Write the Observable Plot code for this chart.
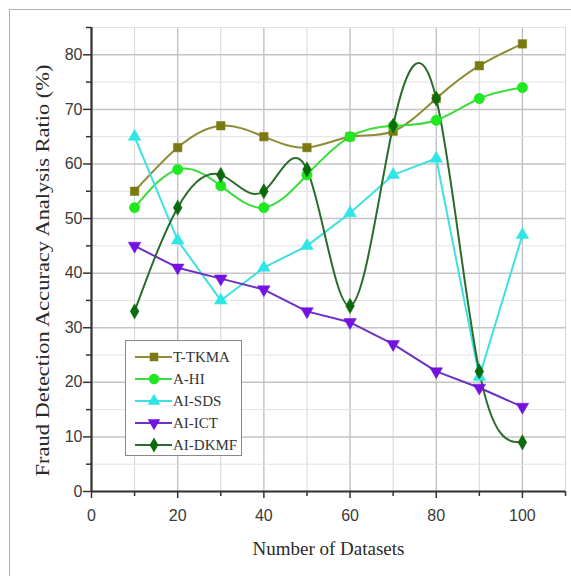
<!DOCTYPE html>
<html><head><meta charset="utf-8">
<script src="https://cdn.jsdelivr.net/npm/d3@7"></script>
<script src="https://cdn.jsdelivr.net/npm/@observablehq/plot@0.6"></script>
<style>
html,body{margin:0;padding:0;background:#fff;}
#wrap{position:relative;width:571px;height:576px;overflow:hidden;background:#fff;}
#frame{position:absolute;left:9px;top:9px;width:620px;height:620px;border:1.5px solid #b0b0b0;pointer-events:none;}
#legend{position:absolute;left:125px;top:340px;width:117px;height:116px;border:1.5px solid #888;background:#fff;box-sizing:border-box;}
</style></head><body><div id="wrap"><div id="frame"></div><div id="legend"></div></div>
<script>
const datasets = [10, 20, 30, 40, 50, 60, 70, 80, 90, 100];
const tTKMA = [55, 63, 67, 65, 63, 65, 66, 72, 78, 82];
const aHI   = [52, 59, 56, 52, 58, 65, 67, 68, 72, 74];
const aiSDS = [65, 46, 35, 41, 45, 51, 58, 61, 21, 47];
const aiICT = [45, 41, 39, 37, 33, 31, 27, 22, 19, 15.5];
const aiDKMF= [33, 52, 58, 55, 59, 34, 67, 72, 22, 9];
const seriesNames = ["T-TKMA", "A-HI", "AI-SDS", "AI-ICT", "AI-DKMF"];
const xMajorTicks = [0, 20, 40, 60, 80, 100];
const xMinorTicks = [10, 30, 50, 70, 90, 110];
const yMajorTicks = [0, 10, 20, 30, 40, 50, 60, 70, 80];
const yMinorTicks = [5, 15, 25, 35, 45, 55, 65, 75, 85];
const xTitle = "Number of Datasets";
const yTitle = "Fraud Detection Accuracy Analysis Ratio (%)";

const styles = [
  {line:"#8e8c35", mark:"#7b7a12", symbol:"square", rotate:0, r:4.8, curve:"natural"},
  {line:"#3bdc3b", mark:"#1fe81f", symbol:"circle", rotate:0, r:5.2, curve:"natural"},
  {line:"#3fe0e0", mark:"#2ee6e6", symbol:"triangle", rotate:0, r:4.7, curve:"linear"},
  {line:"#6d2fc4", mark:"#7412e2", symbol:"triangle", rotate:180, r:4.7, curve:"linear"},
  {line:"#2b6b2b", mark:"#0b6a0b", symbol:"diamond", rotate:0, r:4.6, curve:"natural"}
];
const allValues = [tTKMA, aHI, aiSDS, aiICT, aiDKMF];
const series = seriesNames.map((name, i) => ({
  name, ...styles[i],
  data: datasets.map((x, j) => ({x, y: allValues[i][j], name}))
}));

const marks = [
  Plot.gridX(xMinorTicks, {stroke:"#d6d6d6", strokeOpacity:1, strokeWidth:1}),
  Plot.gridX(xMajorTicks, {stroke:"#bdbdbd", strokeOpacity:1, strokeWidth:1.3}),
  Plot.gridY(yMinorTicks, {stroke:"#e2e2e2", strokeOpacity:1, strokeWidth:1}),
  Plot.gridY(yMajorTicks, {stroke:"#c4c4c4", strokeOpacity:1, strokeWidth:1.5}),
];
for (const s of series) {
  marks.push(Plot.line(s.data, {x:"x", y:"y", stroke:s.line, strokeWidth:2, curve:s.curve}));
}
for (const s of series) {
  marks.push(Plot.dot(s.data, {x:"x", y:"y", symbol:s.symbol, fill:s.mark, stroke:s.mark, strokeWidth:0.5, r:s.r, rotate:s.rotate}));
}
marks.push(
  Plot.axisX(xMajorTicks, {tickSize:7, tickPadding:11, stroke:"#333", strokeWidth:1.5, fontSize:16, fill:"#3a3a3a", label:null, fontFamily:"Liberation Sans"}),
  Plot.axisX(xMinorTicks, {tickSize:5, stroke:"#333", strokeWidth:1.5, text:null, label:null}),
  Plot.axisY(yMajorTicks, {tickSize:8, tickPadding:1, stroke:"#333", strokeWidth:1.5, fontSize:16, fill:"#3a3a3a", label:null, fontFamily:"Liberation Sans"}),
  Plot.axisY(yMinorTicks, {tickSize:5, stroke:"#333", strokeWidth:1.5, text:null, label:null}),
  Plot.ruleY([0], {stroke:"#333", strokeWidth:2.2}),
  Plot.ruleX([0], {stroke:"#333", strokeWidth:2.2}),
  Plot.text([xTitle], {frameAnchor:"bottom", dy:63, fontSize:19, fontFamily:"Liberation Serif", fill:"#2a2a2a"}),
  Plot.text([yTitle], {frameAnchor:"left", textAnchor:"middle", dx:-48, dy:11, rotate:-90, fontSize:18, fontFamily:"Liberation Serif", fill:"#2a2a2a"})
);

const chart = Plot.plot({
  width:571, height:576,
  marginLeft:91, marginRight:6, marginTop:27, marginBottom:85,
  x:{domain:[0,110]}, y:{domain:[0,85]},
  style:{background:"transparent", overflow:"visible"},
  marks
});
// stretch the y title to the reference's length
d3.select(chart).selectAll("text").filter(function() { return this.textContent === yTitle; })
  .attr("textLength", 412).attr("lengthAdjust", "spacingAndGlyphs");
chart.style.position = "absolute";
chart.style.left = "0px";
chart.style.top = "0px";
const wrap = document.getElementById("wrap");
wrap.insertBefore(chart, wrap.firstChild);

// legend
const leg = d3.select("#legend").append("svg").attr("width", 115).attr("height", 114);
series.forEach((s, i) => {
  const cy = 16 + i * 22;
  const g = leg.append("g").attr("transform", `translate(0,${cy})`);
  g.append("line").attr("x1", 9).attr("x2", 46).attr("y1", 0).attr("y2", 0).attr("stroke", s.line).attr("stroke-width", 2.2);
  const symType = {square:d3.symbolSquare, circle:d3.symbolCircle, triangle:d3.symbolTriangle, diamond:d3.symbolDiamond}[s.symbol];
  g.append("path").attr("d", d3.symbol(symType, s.r * s.r * Math.PI)())
    .attr("transform", `translate(28,0) rotate(${s.rotate})`).attr("fill", s.mark);
  g.append("text").attr("x", 47).attr("y", 0).attr("dy", "0.35em").attr("font-family", "Liberation Serif")
    .attr("font-size", 15).attr("fill", "#333").text(s.name);
});
</script>
</body></html>
